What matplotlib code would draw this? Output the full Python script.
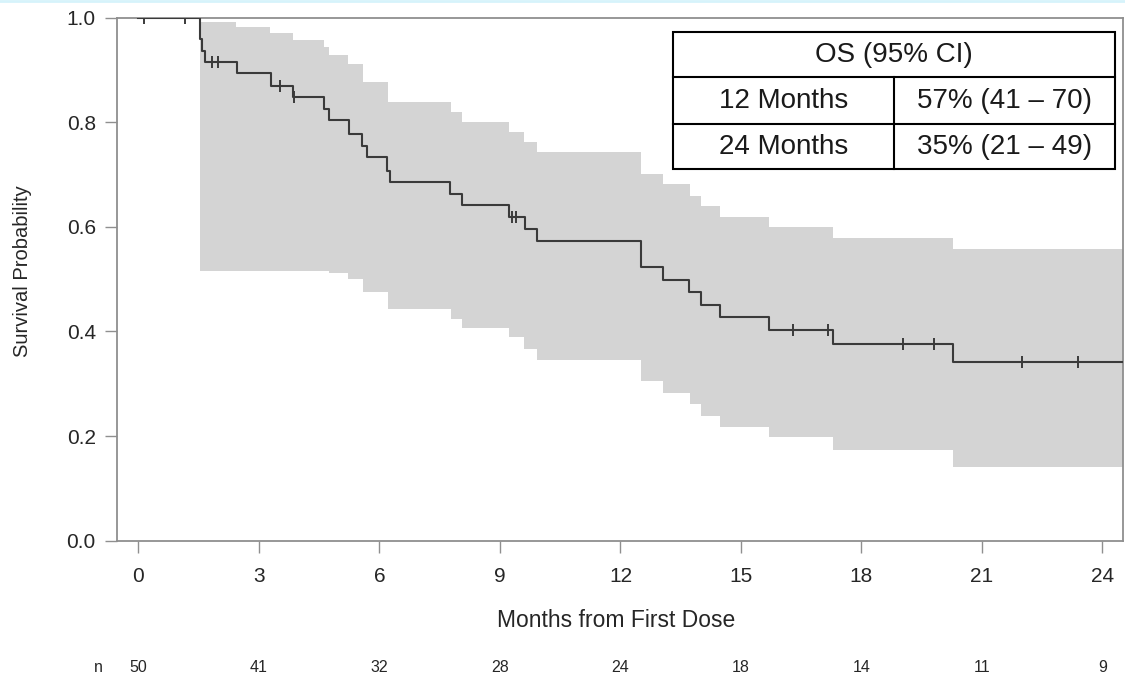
"""
Overall survival (Kaplan-Meier) with 95% CI band and at-risk counts.
"""

import matplotlib
matplotlib.use("Agg")
import matplotlib.pyplot as plt
import numpy as np
from matplotlib.lines import Line2D
from matplotlib.patches import Rectangle

# --- Data --------------------------------------------------------------------
# KM step function (time in months, survival probability after the step)
surv_time = [0, 1.53, 1.57, 1.65, 2.46, 3.29, 3.85, 4.62, 4.75, 5.25, 5.56,
             5.69, 6.19, 6.26, 7.75, 8.05, 9.23, 9.62, 9.93, 12.5, 13.05,
             13.71, 14.0, 14.49, 15.7, 17.3, 20.27]
surv_prob = [1.0, 0.958, 0.936, 0.915, 0.894, 0.870, 0.848, 0.825, 0.804,
             0.778, 0.754, 0.733, 0.707, 0.685, 0.663, 0.641, 0.618, 0.595,
             0.572, 0.523, 0.498, 0.475, 0.451, 0.427, 0.403, 0.376, 0.342]
end_time = 24.5

# censored observations
censor_time = [0.14, 1.16, 1.82, 1.99, 3.52, 3.88, 9.30, 9.40, 16.3, 17.16,
               19.04, 19.81, 21.99, 23.4]

# 95% CI band
ci_time = [1.53, 2.44, 3.28, 3.85, 4.62, 4.75, 5.22, 5.6, 6.22, 7.77, 8.05,
           9.23, 9.6, 9.92, 12.5, 13.05, 13.72, 14.0, 14.49, 15.7, 17.3, 20.27]
ci_upper = [0.992, 0.982, 0.971, 0.957, 0.943, 0.929, 0.911, 0.877, 0.839,
            0.820, 0.801, 0.782, 0.762, 0.742, 0.701, 0.682, 0.658, 0.639,
            0.618, 0.599, 0.579, 0.558]
ci_lower = [0.516, 0.516, 0.516, 0.516, 0.516, 0.511, 0.500, 0.476, 0.442,
            0.423, 0.406, 0.389, 0.367, 0.346, 0.305, 0.282, 0.261, 0.239,
            0.218, 0.198, 0.173, 0.141]

# at-risk table
risk_months = [0, 3, 6, 9, 12, 15, 18, 21, 24]
risk_n = [50, 41, 32, 28, 24, 18, 14, 11, 9]

# inset summary table
table_header = "OS (95% CI)"
table_rows = [("12 Months", "57% (41 \u2013 70)"),
              ("24 Months", "35% (21 \u2013 49)")]

# --- Style -------------------------------------------------------------------
plt.rcParams["font.family"] = ["Liberation Sans", "DejaVu Sans"]
SPINE = "#8f8f8f"
TEXT = "#262626"
BAND = "#d4d4d4"
CURVE = "#3a3a3a"

fig = plt.figure(figsize=(11.25, 6.84), dpi=100)
ax = fig.add_axes([0.1044, 0.2095, 0.8934, 0.7649])

# --- Plot --------------------------------------------------------------------
t_band = np.append(ci_time, end_time)
ax.fill_between(t_band, np.append(ci_lower, ci_lower[-1]),
                np.append(ci_upper, ci_upper[-1]),
                step="post", color=BAND, linewidth=0, zorder=1)

t_curve = np.append(surv_time, end_time)
p_curve = np.append(surv_prob, surv_prob[-1])
ax.step(t_curve, p_curve, where="post", color=CURVE, lw=1.5, zorder=3)

# censor marks sit on the step function
idx = np.searchsorted(surv_time, censor_time, side="right") - 1
ax.plot(censor_time, np.asarray(surv_prob)[idx], linestyle="none",
        marker="|", markersize=8, mew=1.4, color=CURVE, zorder=4)

ax.set_xlim(-0.523, end_time)
ax.set_ylim(0, 1.0)
ax.set_xticks(risk_months)
ax.set_yticks([0.0, 0.2, 0.4, 0.6, 0.8, 1.0])
ax.set_yticklabels([f"{v:.1f}" for v in ax.get_yticks()])

for s in ax.spines.values():
    s.set_color(SPINE)
    s.set_linewidth(1.3)
ax.tick_params(axis="both", direction="out", length=8.6, width=1.0,
               color=SPINE, labelcolor=TEXT, labelsize=15)
ax.tick_params(axis="x", pad=10)
ax.tick_params(axis="y", pad=7)

ax.set_xlabel("Months from First Dose", fontsize=16.5, color=TEXT)
ax.xaxis.set_label_coords(0.496, -0.131)
ax.set_ylabel("Survival Probability", fontsize=14.5, color=TEXT)
ax.yaxis.set_label_coords(-0.085, 0.515)

# at-risk numbers
trans = ax.get_xaxis_transform()
ax.text(-1.01, -0.243, "n", transform=trans, ha="center", va="center",
        fontsize=11.5, color=TEXT, clip_on=False)
for m, n in zip(risk_months, risk_n):
    ax.text(m, -0.243, str(n), transform=trans, ha="center", va="center",
            fontsize=11.5, color=TEXT, clip_on=False)

# --- Inset table -------------------------------------------------------------
x0, x1, xm = 0.553, 0.9925, 0.773
y_edges = [0.9729, 0.8857, 0.7959, 0.7099]
ax.add_patch(Rectangle((x0, y_edges[-1]), x1 - x0, y_edges[0] - y_edges[-1],
                       transform=ax.transAxes, facecolor="white",
                       edgecolor="black", lw=1.5, zorder=5))
for y in y_edges[1:-1]:
    ax.add_artist(Line2D([x0, x1], [y, y], transform=ax.transAxes,
                         color="black", lw=1.5, zorder=6))
ax.add_artist(Line2D([xm, xm], [y_edges[1], y_edges[-1]],
                     transform=ax.transAxes, color="black", lw=1.5, zorder=6))

ax.text((x0 + x1) / 2, (y_edges[0] + y_edges[1]) / 2, table_header,
        transform=ax.transAxes, ha="center", va="center", fontsize=20,
        color="#1a1a1a", zorder=7)
for i, (lab, val) in enumerate(table_rows):
    yc = (y_edges[i + 1] + y_edges[i + 2]) / 2
    ax.text((x0 + xm) / 2, yc, lab, transform=ax.transAxes, ha="center",
            va="center", fontsize=20, color="#1a1a1a", zorder=7)
    ax.text((xm + x1) / 2, yc, val, transform=ax.transAxes, ha="center",
            va="center", fontsize=20, color="#1a1a1a", zorder=7)

# thin frame line at the very top of the image
fig.add_artist(Line2D([0, 1], [0.998, 0.998], transform=fig.transFigure,
                      color="#d6f3fb", lw=2))

fig.savefig("out.png", dpi=100)
